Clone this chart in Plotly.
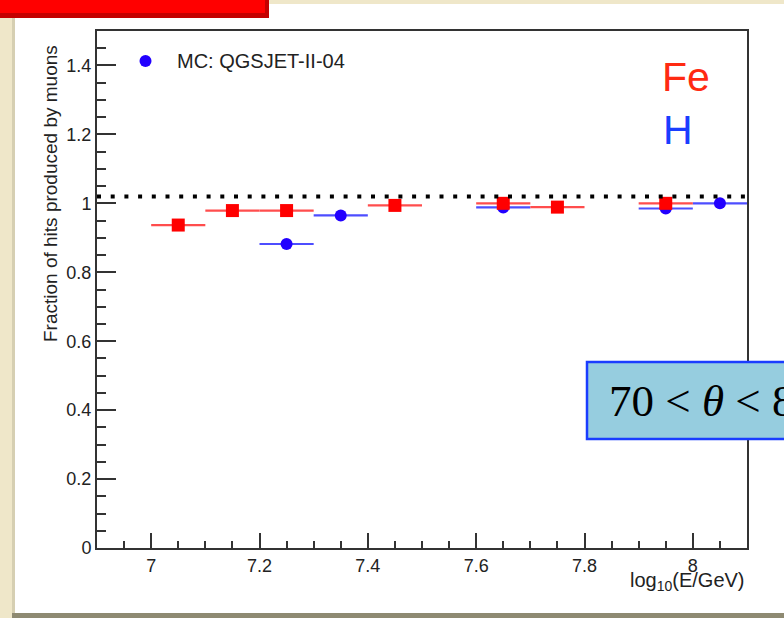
import plotly.graph_objects as go

# Per-bin fractions of hits produced by muons, QGSJET-II-04 simulation
fe_energy = [7.05, 7.15, 7.25, 7.45, 7.65, 7.75, 7.95]
fe_fraction = [0.937, 0.979, 0.979, 0.994, 1.000, 0.989, 1.000]
h_energy = [7.25, 7.35, 7.65, 7.95, 8.05]
h_fraction = [0.882, 0.965, 0.988, 0.985, 1.000]
bin_half_width = 0.05
reference_level = 1.02

x_ticks = [7, 7.2, 7.4, 7.6, 7.8, 8]
y_ticks = [0, 0.2, 0.4, 0.6, 0.8, 1, 1.2, 1.4]

W, H = 784, 618
L, R, T, B = 97, 747, 31, 548  # plot area in pixels


def px(x):
    return (x - L) / (R - L)


def py(y):
    return (B - y) / (B - T)


BEIGE = "#efe7c9"
FE_RED = "#ff0000"
H_BLUE = "#2200ff"
TEXT = "#222222"

fig = go.Figure()

fig.add_trace(go.Scatter(
    x=h_energy, y=h_fraction, mode="markers", name="H",
    marker=dict(symbol="circle", size=12, color=H_BLUE),
    error_x=dict(type="constant", value=bin_half_width, thickness=2.2,
                 width=0, color="#4d4dff"),
    showlegend=False,
))
fig.add_trace(go.Scatter(
    x=fe_energy, y=fe_fraction, mode="markers", name="Fe",
    marker=dict(symbol="square", size=13, color=FE_RED),
    error_x=dict(type="constant", value=bin_half_width, thickness=2.2,
                 width=0, color="#ff4d4d"),
    showlegend=False,
))

shapes = [
    # slide panel
    dict(type="rect", xref="paper", yref="paper", layer="below",
         x0=px(14), x1=px(800), y0=py(613), y1=py(4),
         fillcolor="white", line=dict(width=0)),
    dict(type="rect", xref="paper", yref="paper", layer="below",
         x0=px(12), x1=px(15), y0=py(613), y1=py(4),
         fillcolor="#d6cfb2", line=dict(width=0)),
    dict(type="rect", xref="paper", yref="paper", layer="below",
         x0=px(12), x1=px(800), y0=py(625), y1=py(613),
         fillcolor="#8e8a72", line=dict(width=0)),
    # title banner corner
    dict(type="rect", xref="paper", yref="paper",
         x0=px(-10), x1=px(269), y0=py(18), y1=py(-10),
         fillcolor="#c40000", line=dict(width=0)),
    dict(type="rect", xref="paper", yref="paper",
         x0=px(-10), x1=px(265), y0=py(13), y1=py(-10),
         fillcolor="#ff0000", line=dict(width=0)),
    # reference level
    dict(type="line", xref="x", yref="y", x0=6.9, x1=8.1,
         y0=reference_level, y1=reference_level,
         line=dict(color="black", width=4, dash="4px,9.7px")),
    # legend key
    dict(type="circle", xref="paper", yref="paper",
         x0=px(139.5), x1=px(151.5), y0=py(67), y1=py(55),
         fillcolor=H_BLUE, line=dict(width=0)),
    # zenith-angle box
    dict(type="rect", xref="paper", yref="paper",
         x0=px(587), x1=px(830), y0=py(439), y1=py(362),
         fillcolor="#96cddf", line=dict(color="#1a3cff", width=2.5)),
]

annotations = [
    dict(text="MC: QGSJET-II-04", xref="paper", yref="paper",
         x=px(175), y=py(61), xanchor="left", yanchor="middle",
         showarrow=False, font=dict(family="Liberation Sans", size=20, color=TEXT)),
    dict(text="Fe", xref="paper", yref="paper",
         x=px(660), y=py(77), xanchor="left", yanchor="middle",
         showarrow=False, font=dict(family="Liberation Sans", size=41, color="#ff2a12")),
    dict(text="H", xref="paper", yref="paper",
         x=px(661), y=py(130), xanchor="left", yanchor="middle",
         showarrow=False, font=dict(family="Liberation Sans", size=41, color="#1a3dff")),
    dict(text="70 &lt; <i>θ</i> &lt; 80", xref="paper", yref="paper",
         x=px(607), y=py(401), xanchor="left", yanchor="middle",
         showarrow=False, font=dict(family="Liberation Serif", size=45, color="black")),
    dict(text="Fraction of hits produced by muons", xref="paper", yref="paper",
         x=px(50), y=py(194), xanchor="center", yanchor="middle", textangle=-90,
         showarrow=False, font=dict(family="Liberation Sans", size=19, color=TEXT)),
    dict(text="log<sub>10</sub>(E/GeV)", xref="paper", yref="paper",
         x=1.0, y=py(567), xanchor="right", yanchor="top",
         showarrow=False, font=dict(family="Liberation Sans", size=20, color=TEXT)),
]

axis_common = dict(
    showgrid=False, zeroline=False, showline=True, linecolor="#333333",
    linewidth=2, mirror=True, ticks="inside", tickcolor="#333333",
    tickwidth=1.5, tickfont=dict(family="Liberation Sans", size=18, color=TEXT),
)

fig.update_layout(
    width=W, height=H, autosize=False,
    margin=dict(l=L, r=W - R, t=T, b=H - B, pad=0),
    paper_bgcolor=BEIGE, plot_bgcolor="white",
    shapes=shapes, annotations=annotations,
    xaxis=dict(range=[6.9, 8.1], tickvals=x_ticks, ticklen=15,
               minor=dict(ticks="inside", dtick=0.05, tick0=7, ticklen=7,
                          tickcolor="#333333", tickwidth=1.5),
               **axis_common),
    yaxis=dict(range=[0, 1.5], tickvals=y_ticks, ticklen=19,
               minor=dict(ticks="inside", dtick=0.05, tick0=0, ticklen=9,
                          tickcolor="#333333", tickwidth=1.5),
               **axis_common),
)

fig.write_html("out.html")
